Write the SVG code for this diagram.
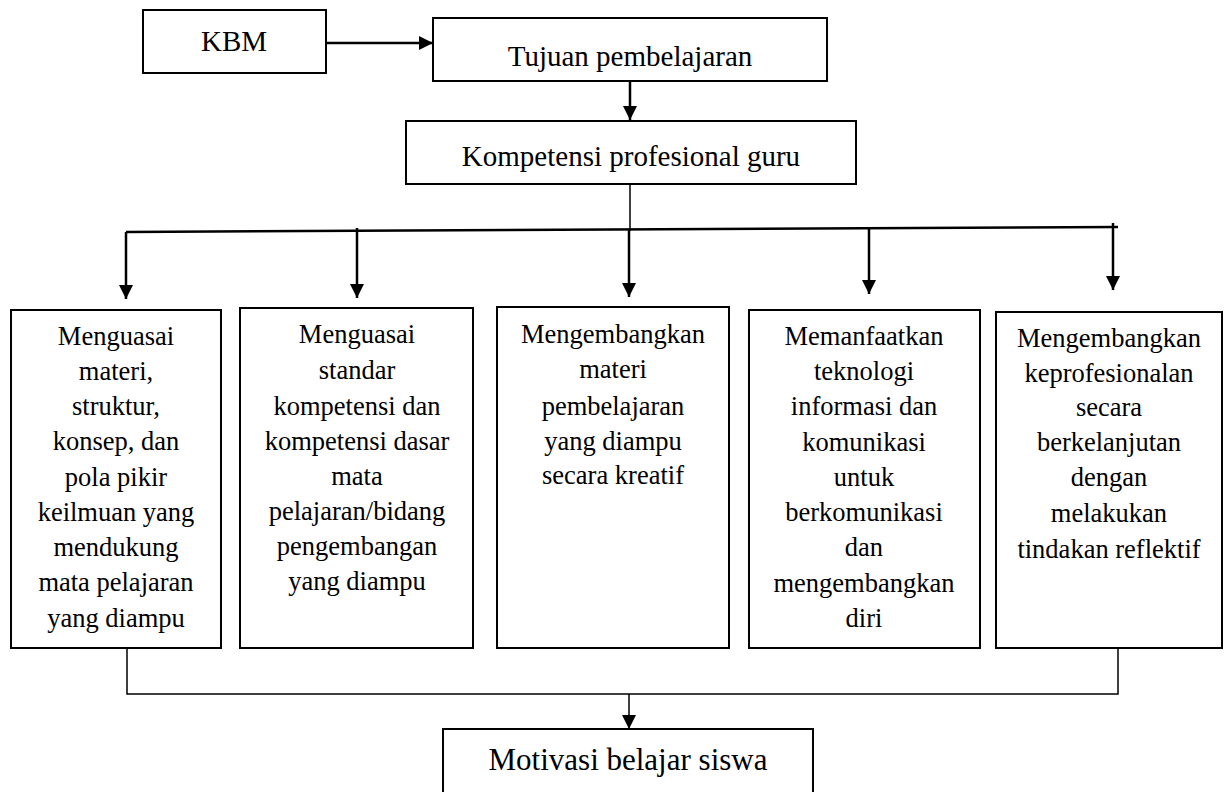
<svg xmlns="http://www.w3.org/2000/svg" width="1227" height="792" viewBox="0 0 1227 792">
<style>
.box{fill:#fff;stroke:#000;stroke-width:2}
.t{font-family:"Liberation Serif","Times New Roman",serif;fill:#000;text-anchor:middle}
.big{font-size:29px}
.sm{font-size:26.5px}
.ln{fill:none;stroke:#000;stroke-width:2.5}
.ln2{fill:none;stroke:#000;stroke-width:1.5}
</style>
<defs>
<marker id="ah" viewBox="0 0 10 10" refX="10" refY="5" markerWidth="14" markerHeight="15" markerUnits="userSpaceOnUse" orient="auto"><path d="M0,0 L10,5 L0,10 z" fill="#000"/></marker>
</defs>
<rect width="1227" height="792" fill="#fff"/>
<g id="connectors">
<line class="ln" x1="326" y1="43" x2="433" y2="43" marker-end="url(#ah)"/>
<line class="ln" x1="630" y1="81" x2="630" y2="120" marker-end="url(#ah)"/>
<line class="ln2" x1="630" y1="184" x2="630" y2="231"/>
<line class="ln" x1="126" y1="232" x2="1118" y2="227"/>
<line class="ln" x1="126" y1="232" x2="126" y2="299" marker-end="url(#ah)"/>
<line class="ln" x1="357" y1="228" x2="357" y2="298" marker-end="url(#ah)"/>
<line class="ln" x1="629" y1="230" x2="629" y2="297" marker-end="url(#ah)"/>
<line class="ln" x1="869" y1="227" x2="869" y2="294" marker-end="url(#ah)"/>
<line class="ln" x1="1113" y1="223" x2="1113" y2="290" marker-end="url(#ah)"/>
<polyline class="ln2" points="127,648 127,694 1118,694 1118,648"/>
<line class="ln2" x1="629" y1="694" x2="629" y2="729" marker-end="url(#ah)"/>
</g>
<g id="kbm"><rect class="box" x="143" y="10" width="183" height="63"/><text class="t big" x="234" y="51">KBM</text></g>
<g id="tujuan"><rect class="box" x="433" y="18" width="394" height="63"/><text class="t big" x="630" y="66">Tujuan pembelajaran</text></g>
<g id="kompetensi"><rect class="box" x="406" y="121" width="450" height="63"/><text class="t big" x="631" y="166">Kompetensi profesional guru</text></g>
<g id="n1"><rect class="box" x="11" y="310" width="210" height="338"/>
<text class="t sm"><tspan x="116" y="345">Menguasai</tspan><tspan x="116" y="380">materi,</tspan><tspan x="116" y="415">struktur,</tspan><tspan x="116" y="450">konsep, dan</tspan><tspan x="116" y="486">pola pikir</tspan><tspan x="116" y="521">keilmuan yang</tspan><tspan x="116" y="556">mendukung</tspan><tspan x="116" y="591">mata pelajaran</tspan><tspan x="116" y="627">yang diampu</tspan></text></g>
<g id="n2"><rect class="box" x="240" y="308" width="233" height="340"/>
<text class="t sm"><tspan x="357" y="343">Menguasai</tspan><tspan x="357" y="379">standar</tspan><tspan x="357" y="415">kompetensi dan</tspan><tspan x="357" y="450">kompetensi dasar</tspan><tspan x="357" y="485">mata</tspan><tspan x="357" y="520">pelajaran/bidang</tspan><tspan x="357" y="555">pengembangan</tspan><tspan x="357" y="590">yang diampu</tspan></text></g>
<g id="n3"><rect class="box" x="497" y="307" width="232" height="341"/>
<text class="t sm"><tspan x="613" y="343">Mengembangkan</tspan><tspan x="613" y="378">materi</tspan><tspan x="613" y="415">pembelajaran</tspan><tspan x="613" y="450">yang diampu</tspan><tspan x="613" y="484">secara kreatif</tspan></text></g>
<g id="n4"><rect class="box" x="749" y="310" width="231" height="338"/>
<text class="t sm"><tspan x="864" y="345">Memanfaatkan</tspan><tspan x="864" y="380">teknologi</tspan><tspan x="864" y="415">informasi dan</tspan><tspan x="864" y="451">komunikasi</tspan><tspan x="864" y="486">untuk</tspan><tspan x="864" y="521">berkomunikasi</tspan><tspan x="864" y="556">dan</tspan><tspan x="864" y="592">mengembangkan</tspan><tspan x="864" y="627">diri</tspan></text></g>
<g id="n5"><rect class="box" x="996" y="312" width="226" height="336"/>
<text class="t sm"><tspan x="1109" y="347">Mengembangkan</tspan><tspan x="1109" y="382">keprofesionalan</tspan><tspan x="1109" y="416">secara</tspan><tspan x="1109" y="451">berkelanjutan</tspan><tspan x="1109" y="486">dengan</tspan><tspan x="1109" y="522">melakukan</tspan><tspan x="1109" y="558">tindakan reflektif</tspan></text></g>
<g id="motivasi"><rect class="box" x="443" y="729" width="370" height="70"/><text class="t" style="font-size:31px" x="628" y="770">Motivasi belajar siswa</text></g>
</svg>
